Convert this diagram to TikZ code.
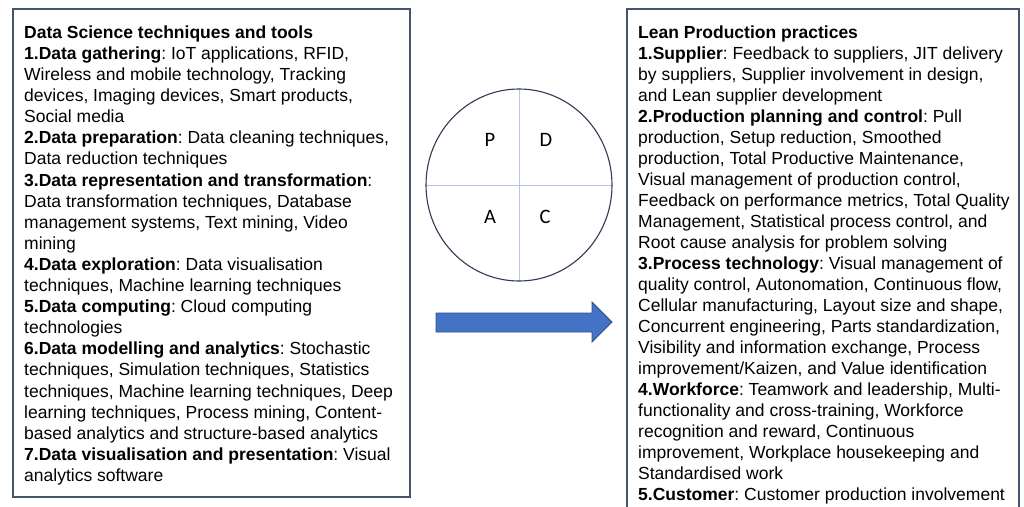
\documentclass[tikz,border=0pt]{standalone}
\usepackage{fontspec}
\setmainfont{Liberation Sans}
\newfontfamily\quadfont{Carlito}
\definecolor{boxline}{HTML}{44546A}
\definecolor{ringline}{HTML}{2F3B55}
\definecolor{crossline}{HTML}{B4C7E7}
\definecolor{arrowfill}{HTML}{4472C4}
\definecolor{arrowline}{HTML}{2F528F}
\frenchspacing

\begin{document}
\begin{tikzpicture}[x=1pt,y=-1pt,
  panel/.style={draw=boxline, line width=1.5pt, fill=white},
  listtext/.style={anchor=north west, inner sep=0pt, align=left,
    font=\fontsize{17.5}{21.1}\selectfont},
  quadletter/.style={font=\quadfont\fontsize{20.5}{24}\selectfont, inner sep=0pt}]
\useasboundingbox[fill=white] (0,0) rectangle (1024,506);
\clip (0,0) rectangle (1024,506);

% left panel: data science techniques
\draw[panel] (13,9) rectangle (410,497);
\node[listtext] (dstext) at (24,25.5) {%
\textbf{Data Science techniques and tools}\\
\textbf{1.Data gathering}: IoT applications, RFID,\\
Wireless and mobile technology, Tracking\\
devices, Imaging devices, Smart products,\\
Social media\\
\textbf{2.Data preparation}: Data cleaning techniques,\\
Data reduction techniques\\
\textbf{3.Data representation and transformation}:\\
Data transformation techniques, Database\\
management systems, Text mining, Video\\
mining\\
\textbf{4.Data exploration}: Data visualisation\\
techniques, Machine learning techniques\\
\textbf{5.Data computing}: Cloud computing\\
technologies\\
\textbf{6.Data modelling and analytics}: Stochastic\\
techniques, Simulation techniques, Statistics\\
techniques, Machine learning techniques, Deep\\
learning techniques, Process mining, Content-\\
based analytics and structure-based analytics\\
\textbf{7.Data visualisation and presentation}: Visual\\
analytics software};

% right panel: lean production practices
\draw[panel] (627,9) rectangle (1019,530);
\node[listtext, font=\fontsize{17.5}{21.0}\selectfont] (lptext) at (638,25.5) {%
\textbf{Lean Production practices}\\
\textbf{1.Supplier}: Feedback to suppliers, JIT delivery\\
by suppliers, Supplier involvement in design,\\
and Lean supplier development\\
\textbf{2.Production planning and control}: Pull\\
production, Setup reduction, Smoothed\\
production, Total Productive Maintenance,\\
Visual management of production control,\\
Feedback on performance metrics, Total Quality\\
Management, Statistical process control, and\\
Root cause analysis for problem solving\\
\textbf{3.Process technology}: Visual management of\\
quality control, Autonomation, Continuous flow,\\
Cellular manufacturing, Layout size and shape,\\
Concurrent engineering, Parts standardization,\\
Visibility and information exchange, Process\\
improvement/Kaizen, and Value identification\\
\textbf{4.Workforce}: Teamwork and leadership, Multi-\\
functionality and cross-training, Workforce\\
recognition and reward, Continuous\\
improvement, Workplace housekeeping and\\
Standardised work\\
\textbf{5.Customer}: Customer production involvement};

% PDCA cycle
\coordinate (cc) at (519,185);
\draw[crossline, line width=0.9pt] (519,89) -- (519,281);
\draw[crossline, line width=0.9pt] (426,185) -- (612,185);
\draw[ringline, line width=1.1pt] (cc) ellipse [x radius=93, y radius=96];
\node[quadletter] (qp) at (490,140) {P};
\node[quadletter] (qd) at (546,140) {D};
\node[quadletter] (qa) at (490,217) {A};
\node[quadletter] (qc) at (545,217) {C};

% block arrow
\draw[fill=arrowfill, draw=arrowline, line width=0.8pt]
  (436,313) -- (592,313) -- (592,302) -- (612,322) -- (592,342)
  -- (592,332) -- (436,332) -- cycle;
\end{tikzpicture}
\end{document}
